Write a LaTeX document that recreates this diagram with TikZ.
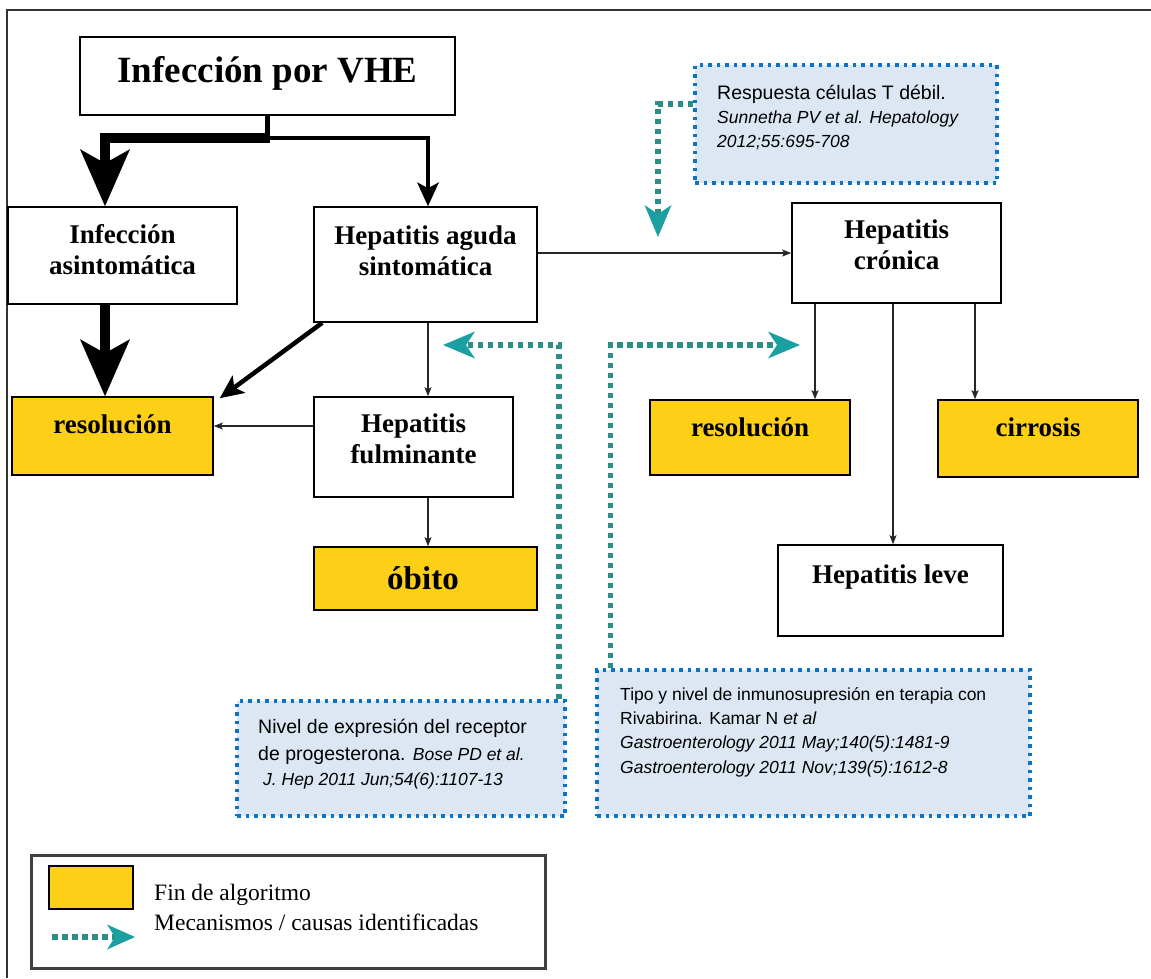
\documentclass[tikz,border=0pt]{standalone}
\usepackage{fontspec}
\setmainfont{Liberation Serif}
\newfontfamily\arial{Liberation Sans}
\usetikzlibrary{arrows.meta}
\definecolor{endyellow}{HTML}{FDD017}
\definecolor{dotblue}{HTML}{0A74C8}
\definecolor{lightblue}{HTML}{DCE7F3}
\definecolor{tealc}{HTML}{2A8F86}
\definecolor{tealh}{HTML}{1AA0A0}
\tikzset{
  x=1pt, y=-1pt,
  box/.style={draw, line width=1.6pt, fill=white, inner sep=0pt},
  ybox/.style={box, fill=endyellow},
  bluebox/.style={draw=dotblue, fill=lightblue, line width=3.5pt, dash pattern=on 3.5pt off 5pt, inner sep=0pt},
  lbl/.style={font=\bfseries\fontsize{27}{31}\selectfont, align=center, inner sep=0pt},
  sfn/.style={font=\arial\fontsize{19.5}{24}\selectfont, anchor=base west, inner sep=0pt},
  sfi/.style={font=\arial\itshape\fontsize{17.5}{22}\selectfont, anchor=base west, inner sep=0pt},
  sfs/.style={font=\arial\fontsize{17.5}{22}\selectfont, anchor=base west, inner sep=0pt},
  thinarr/.style={draw=black!85, line width=1.3pt, -{Stealth[length=9pt,width=7pt,inset=2pt]}},
  medarr/.style={line width=4.5pt, -{Stealth[length=24pt,width=22pt,inset=6pt,line width=0pt]}},
  bigarr/.style={line width=10pt, -{Stealth[length=57pt,width=50pt,inset=14pt,line width=0pt]}},
  tealarr/.style={draw=tealc, line width=5.5pt, dash pattern=on 5.5pt off 4.5pt,
     -{Stealth[length=32pt,width=27pt,inset=9pt,line width=0pt,fill=tealh,color=tealh]}},
}
\begin{document}
\begin{tikzpicture}
\useasboundingbox (0,0) rectangle (1151,978);
% outer frame
\draw[line width=2pt, black!80] (1151,10) -- (7,10) -- (7,978);

% main boxes
\node[box, minimum width=375pt, minimum height=78pt] (vhe) at (267.5,76) {};
\node[font=\bfseries\fontsize{37}{40}\selectfont, inner sep=0pt] (vhet) at (267.5,73) {Infección por VHE};

\node[box, minimum width=229pt, minimum height=97pt] (asint) at (122.5,255.5) {};
\node[lbl] (asintt) at (122.5,250) {Infección\\asintomática};

\node[box, minimum width=223pt, minimum height=115pt] (aguda) at (425.5,264.5) {};
\node[lbl] (agudat) at (425.5,251) {Hepatitis aguda\\sintomática};

\node[box, minimum width=209pt, minimum height=100pt] (cron) at (896.5,253) {};
\node[lbl] (cront) at (896.5,245) {Hepatitis\\crónica};

\node[ybox, minimum width=201pt, minimum height=78pt] (res1) at (112.5,436) {};
\node[lbl] (res1t) at (112.5,424) {resolución};

\node[box, minimum width=199pt, minimum height=100pt] (fulm) at (413.5,447) {};
\node[lbl] (fulmt) at (413.5,439) {Hepatitis\\fulminante};

\node[ybox, minimum width=223pt, minimum height=63pt] (obito) at (425.5,578.5) {};
\node[font=\bfseries\fontsize{33}{36}\selectfont, inner sep=0pt] (obitot) at (423,578) {óbito};

\node[ybox, minimum width=200pt, minimum height=75pt] (res2) at (750,437.5) {};
\node[lbl] (res2t) at (750,427) {resolución};

\node[ybox, minimum width=200pt, minimum height=77pt] (cirr) at (1038,438.5) {};
\node[lbl] (cirrt) at (1038,427) {cirrosis};

\node[box, minimum width=225pt, minimum height=91pt] (leve) at (890.5,590.5) {};
\node[lbl] (levet) at (890.5,577) {Hepatitis leve};

% blue boxes
\node[bluebox, minimum width=302pt, minimum height=118pt] (resp) at (846,124) {};
\node[sfn] (resp1) at (717,99) {Respuesta células T débil.};
\node[sfi] (resp2) at (717,123) {Sunnetha PV et al. Hepatology};
\node[sfi] (resp3) at (717,147) {2012;55:695-708};

\node[bluebox, minimum width=328pt, minimum height=115pt] (nivel) at (401,758.5) {};
\node[sfn] (niv1) at (258,733) {Nivel de expresión del receptor};
\node[sfn] (niv2) at (258,760) {de progesterona. {\itshape\fontsize{17.5}{22}\selectfont Bose PD et al.}};
\node[sfi] (niv3) at (263,785) {J. Hep 2011 Jun;54(6):1107-13};

\node[bluebox, minimum width=433pt, minimum height=146pt] (tipo) at (813.5,743) {};
\node[sfs] (tip1) at (620,700) {Tipo y nivel de inmunosupresión en terapia con};
\node[sfs] (tip2) at (620,724) {Rivabirina. Kamar N {\itshape et al}};
\node[sfi] (tip3) at (620,748) {Gastroenterology 2011 May;140(5):1481-9};
\node[sfi] (tip4) at (620,773) {Gastroenterology 2011 Nov;139(5):1612-8};

% coordinates
\coordinate (j) at (267.5,138);
\coordinate (rtip) at (658,237);
\coordinate (ntip) at (443,345);
\coordinate (ttip) at (800,345);

% black connectors
\draw[line width=5pt] (vhe.south) -- (j);
\draw[bigarr] ([xshift=2.5pt]j) -| ([xshift=-17.5pt]asint.north);
\draw[medarr] ([xshift=-2pt]j) -| ([xshift=2.5pt]aguda.north);
\draw[bigarr] ([xshift=-17.5pt]asint.south) -- ([xshift=-7.5pt]res1.north);
\draw[medarr] ([xshift=9pt]aguda.south west) -- ([xshift=6pt,yshift=-2pt]res1.north east);
\draw[thinarr] (aguda.east |- cron.west) -- (cron.west);
\draw[thinarr] ([xshift=2.5pt]aguda.south) -- ([xshift=14.5pt]fulm.north);
\draw[thinarr] ([yshift=21pt]fulm.west) -- ([yshift=10pt]res1.east);
\draw[thinarr] ([xshift=14.5pt]fulm.south) -- ([xshift=2.5pt]obito.north);
\draw[thinarr] ([xshift=-81.5pt]cron.south) -- ([xshift=65pt]res2.north);
\draw[thinarr] ([xshift=-3.5pt]cron.south) -- ([xshift=2.5pt]leve.north);
\draw[thinarr] ([xshift=78.5pt]cron.south) -- ([xshift=-63pt]cirr.north);

% teal connectors
\draw[tealarr] ([yshift=20pt]resp.west) -| (rtip);
\draw[tealarr] ([xshift=-8pt]nivel.north east) |- (ntip);
\draw[tealarr] ([xshift=15pt]tipo.north west) |- (ttip);

% legend
\node[draw=black!75, line width=3pt, minimum width=514pt, minimum height=113pt, inner sep=0pt] (leg) at (288,911.5) {};
\node[draw, line width=2pt, fill=endyellow, minimum width=84pt, minimum height=43pt, inner sep=0pt] (legy) at (91,887.5) {};
\node[font=\fontsize{23.5}{28}\selectfont, anchor=base west, inner sep=0pt] (legt1) at (154,900) {Fin de algoritmo};
\node[font=\fontsize{23.5}{28}\selectfont, anchor=base west, inner sep=0pt] (legt2) at (154,930) {Mecanismos / causas identificadas};
\coordinate (lega) at (52,937);
\coordinate (legb) at (135,937);
\draw[tealarr, -{Stealth[length=28pt,width=25pt,inset=8pt,line width=0pt,fill=tealh,color=tealh]}] (lega) -- (legb);
\end{tikzpicture}
\end{document}
